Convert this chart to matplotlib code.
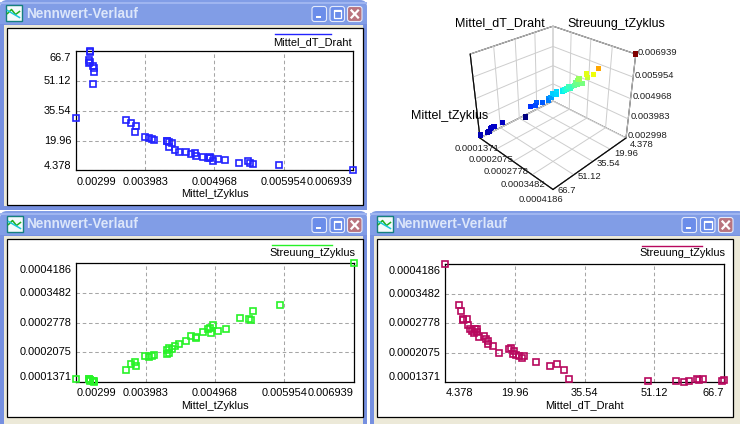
import matplotlib
matplotlib.use("Agg")
import numpy as np
import matplotlib.pyplot as plt
from matplotlib.patches import Rectangle, FancyBboxPatch
from matplotlib.lines import Line2D
from mpl_toolkits.mplot3d import proj3d

plt.rcParams['font.family'] = ['Liberation Sans', 'DejaVu Sans']

# ---------------- data ----------------
mittel_tzyklus = [0.003188, 0.003192, 0.003174, 0.003180, 0.003188, 0.003231, 0.003245,
                  0.003245, 0.003231, 0.002998, 0.003706, 0.003778, 0.003844, 0.003835,
                  0.003973, 0.004034, 0.004077, 0.004101, 0.004291, 0.004286, 0.004315,
                  0.004362, 0.004320, 0.004405, 0.004462, 0.004562, 0.004633, 0.004695,
                  0.004705, 0.004804, 0.004876, 0.004900, 0.004907, 0.004947, 0.005014,
                  0.005118, 0.005318, 0.005446, 0.005479, 0.005513, 0.005888, 0.006939]
mittel_dt_draht = [66.70, 66.40, 62.16, 60.70, 61.10, 59.00, 57.80,
                   56.10, 49.80, 31.96, 30.91, 29.34, 27.77, 24.63,
                   22.01, 21.49, 20.79, 20.27, 19.57, 19.80, 19.04,
                   18.69, 16.42, 15.03, 13.98, 13.98, 13.11, 13.46,
                   11.88, 11.53, 11.01, 11.53, 10.80, 9.44, 10.31,
                   9.96, 8.39, 9.27, 8.39, 7.87, 7.35, 4.378]
streuung_tzyklus = [0.0001420, 0.0001390, 0.0001442, 0.0001450, 0.0001418, 0.0001395, 0.0001379,
                    0.0001385, 0.0001395, 0.0001450, 0.0001664, 0.0001806, 0.0001743, 0.0001853,
                    0.0001996, 0.0001956, 0.0001996, 0.0002019, 0.0002035, 0.0002122, 0.0002178,
                    0.0002162, 0.0002067, 0.0002225, 0.0002273, 0.0002352, 0.0002462, 0.0002407,
                    0.0002447, 0.0002557, 0.0002628, 0.0002644, 0.0002541, 0.0002731, 0.0002589,
                    0.0002636, 0.0002889, 0.0002873, 0.0002842, 0.0003063, 0.0003205, 0.0004186]

tz_ticks = [0.002998, 0.003983, 0.004968, 0.005954, 0.006939]
tz_labels = ["0.00299", "0.003983", "0.004968", "0.005954", "0.006939"]
tz_labels_3d = ["0.002998", "0.003983", "0.004968", "0.005954", "0.006939"]
dt_ticks = [4.378, 19.96, 35.54, 51.12, 66.7]
dt_labels = ["4.378", "19.96", "35.54", "51.12", "66.7"]
st_ticks = [0.0001371, 0.0002075, 0.0002778, 0.0003482, 0.0004186]
st_labels = ["0.0001371", "0.0002075", "0.0002778", "0.0003482", "0.0004186"]

window_title = "Nennwert-Verlauf"
name_tz = "Mittel_tZyklus"
name_dt = "Mittel_dT_Draht"
name_st = "Streuung_tZyklus"

# ---------------- figure ----------------
W, H = 740, 424
fig = plt.figure(figsize=(W / 100, H / 100), dpi=100)
fig.patch.set_facecolor('white')

bg = fig.add_axes([0, 0, 1, 1])
bg.set_zorder(-5)
bg.axis('off')

FRAME = '#7690E0'
TITLE = '#819DE6'
BODY = '#ECE9D8'
FS = 7.9


def button(x, y, w, h, kind):
    fc = '#B9747E' if kind == 'close' else '#6B8DEA'
    bg.add_patch(FancyBboxPatch((x, y), w, h, boxstyle='round,pad=0,rounding_size=2.5',
                                fc=fc, ec='#E4EAFB', lw=0.8))
    if kind == 'min':
        bg.add_patch(Rectangle((x + 4, y + h - 5.5), 4.5, 2, fc='white', ec='none'))
    elif kind == 'max':
        bg.add_patch(Rectangle((x + 3.5, y + 3.5), w - 7, h - 7, fc='none', ec='white', lw=0.9))
        bg.add_patch(Rectangle((x + 3.5, y + 3.5), w - 7, 1.6, fc='white', ec='none'))
    else:
        bg.add_line(Line2D([x + 4, x + w - 4], [y + 4, y + h - 4], color='white', lw=1.6))
        bg.add_line(Line2D([x + 4, x + w - 4], [y + h - 4, y + 4], color='white', lw=1.6))


def window(x0, y0, x1, y1, panel, title_x, icon_x, btn_x, btn_y):
    bg.add_patch(FancyBboxPatch((x0, y0), x1 - x0, 40, boxstyle='round,pad=0,rounding_size=7',
                                fc=TITLE, ec='none'))
    bg.add_patch(Rectangle((x0, y0 + 2), x1 - x0, 1.5, fc='#9FB5F0', ec='none'))
    bg.add_patch(Rectangle((x0, y0 + 24), x1 - x0, y1 - y0 - 24, fc=FRAME, ec='none'))
    bg.add_patch(Rectangle((x0 + 4, y0 + 25), x1 - x0 - 8, y1 - y0 - 29, fc=BODY, ec='none'))
    px0, py0, px1, py1 = panel
    bg.add_patch(Rectangle((px0, py0), px1 - px0, py1 - py0, fc='white', ec='black', lw=0.9))
    # icon
    iy = y0 + 4.5
    bg.add_patch(Rectangle((icon_x, iy), 16, 16, fc='#F4FBFB', ec='#16807E', lw=1.0))
    bg.add_line(Line2D([icon_x + 2, icon_x + 6, icon_x + 10, icon_x + 14],
                       [iy + 9, iy + 5, iy + 10, iy + 7], color='#1FB01F', lw=1.1))
    bg.add_line(Line2D([icon_x + 2, icon_x + 14], [iy + 6, iy + 13], color='#18C8D8', lw=1.1))
    bg.text(title_x, y0 + 13.5, window_title, color='#DCE6FA', fontsize=9.8,
            fontweight='bold', ha='left', va='center')
    for bx, kind in zip(btn_x, ['min', 'max', 'close']):
        button(bx, btn_y, 14.5, 15, kind)


window(0, 0, 367, 210, (7, 28, 362.5, 204.5), 26, 5.5, [312, 330, 347.5], 6.5)
window(0, 211, 367, 430, (7, 239, 362.5, 416.7), 26, 6.5, [312, 330, 347.5], 217.5)
window(370, 211, 745, 430, (377, 239, 732.7, 416.7), 395, 376.5, [682, 700.5, 718.5], 217.5)

bg.set_xlim(0, W)
bg.set_ylim(H, 0)


# ---------------- 2D panels ----------------
def panel(rect, xs, ys, color, xt, xl, yt, yl, xlabel, legend_label, leg_line, leg_text):
    l, t, r, b = rect
    ax = fig.add_axes([l / W, 1 - b / H, (r - l) / W, (b - t) / H])
    ax.set_xlim(xt[0], xt[-1])
    ax.set_ylim(yt[0], yt[-1])
    ax.set_xticks(xt)
    ax.set_yticks(yt)
    ax.tick_params(length=0, labelbottom=False, labelleft=False)
    ax.grid(True, color='#A6A6A6', linestyle=(0, (3.4, 2.6)), linewidth=0.75)
    for sp in ax.spines.values():
        sp.set_color('black')
        sp.set_linewidth(0.9)
    ax.plot(xs, ys, 's', ms=5.0, mfc='none', mec=color, mew=1.2, clip_on=False, zorder=4)
    n = len(xt)
    for i, (v, lab) in enumerate(zip(xt, xl)):
        ha = 'left' if i == 0 else ('right' if i == n - 1 else 'center')
        ax.annotate(lab, (v, 0), xycoords=('data', 'axes fraction'), xytext=(0, -8.2),
                    textcoords='offset points', ha=ha, va='center', fontsize=FS)
    for i, (v, lab) in enumerate(zip(yt, yl)):
        dy = 3.3 if i == 0 else (-5.0 if i == n - 1 else 0)
        ax.annotate(lab, (0, v), xycoords=('axes fraction', 'data'), xytext=(-3.6, dy),
                    textcoords='offset points', ha='right', va='center', fontsize=FS)
    ax.annotate(xlabel, (0.5, 0), xycoords='axes fraction', xytext=(0, -17),
                textcoords='offset points', ha='center', va='center', fontsize=FS)
    (lx0, lx1, ly) = leg_line
    fig.add_artist(Line2D([lx0 / W, lx1 / W], [1 - ly / H, 1 - ly / H], color=color, lw=1.0,
                          transform=fig.transFigure))
    (tx, ty) = leg_text
    fig.text(tx / W, 1 - ty / H, legend_label, ha='right', va='center', fontsize=FS)
    return ax


panel((76.3, 51.3, 352.7, 170.3), mittel_tzyklus, mittel_dt_draht, '#2323FF',
      tz_ticks, tz_labels, dt_ticks, dt_labels, name_tz, name_dt, (275, 331, 34), (352, 42))
panel((76.3, 263.3, 353.7, 382.0), mittel_tzyklus, streuung_tzyklus, '#27F227',
      tz_ticks, tz_labels, st_ticks, st_labels, name_tz, name_st, (272, 332, 245), (355, 253))
panel((445.3, 264.3, 723.7, 382.0), mittel_dt_draht, streuung_tzyklus, '#B8085E',
      dt_ticks, dt_labels, st_ticks, st_labels, name_dt, name_st, (641.7, 701.7, 245.7), (725, 253))

# ---------------- 3D chart ----------------
ax3 = fig.add_axes([0.6, 0.5, 0.3, 0.5], projection='3d')
ax3.set_proj_type('persp', focal_length=0.4)
ax3.patch.set_alpha(0)
ax3.set_facecolor((1, 1, 1, 0))
ax3.set_box_aspect((1, 1, 0.88))
ax3.view_init(elev=30, azim=45)
ax3.set_xlim(dt_ticks[0], dt_ticks[-1])
ax3.set_ylim(st_ticks[0], st_ticks[-1])
ax3.set_zlim(tz_ticks[0], tz_ticks[-1])
ax3.set_xticks(dt_ticks)
ax3.set_yticks(st_ticks)
ax3.set_zticks(tz_ticks)
for axis in (ax3.xaxis, ax3.yaxis, ax3.zaxis):
    axis.set_ticklabels([])
    axis.set_pane_color((1, 1, 1, 1))
    axis.pane.set_edgecolor('black')
    axis.pane.set_linewidth(0.8)
    axis._axinfo['grid'].update(color='#CDCDCD', linewidth=0.7, linestyle='-')
    axis._axinfo['tick'].update(inward_factor=0, outward_factor=0)
    axis.line.set_color('black')
    axis.line.set_linewidth(0.8)
ax3.set_xlabel('')
ax3.set_ylabel('')
ax3.set_zlabel('')
ax3.scatter(mittel_dt_draht, streuung_tzyklus, mittel_tzyklus, c=mittel_tzyklus, cmap='jet',
            vmin=tz_ticks[0], vmax=tz_ticks[-1], marker='s', s=14, linewidths=0,
            depthshade=False)


def proj_px(x, y, z):
    xs, ys, _ = proj3d.proj_transform(np.atleast_1d(np.asarray(x, float)),
                                      np.atleast_1d(np.asarray(y, float)),
                                      np.atleast_1d(np.asarray(z, float)), ax3.M)
    d = ax3.transData.transform(np.column_stack([xs, ys]))
    return d[:, 0], H - d[:, 1]


def set_ax(cx, cy, s):
    ax3.set_position([(cx - s / 2) / W, 1 - (cy + s / 2) / H, s / W, s / H])


side, cxp, cyp = 240.0, 553.0, 110.0
set_ax(cxp, cyp, side)
xmin, xmax = dt_ticks[0], dt_ticks[-1]
ymin, ymax = st_ticks[0], st_ticks[-1]
zmin, zmax = tz_ticks[0], tz_ticks[-1]
TARGET_SPAN, TARGET_MID = 146.0, (553.0, 138.0)
for _ in range(3):
    fig.canvas.draw()
    pxs, pys = proj_px([xmax, xmin], [ymin, ymax], [zmin, zmin])
    k = TARGET_SPAN / (pxs[1] - pxs[0])
    bb = ax3.get_position()
    acx = (bb.x0 + bb.x1) / 2 * W
    acy = (1 - (bb.y0 + bb.y1) / 2) * H
    side *= k
    cxp = TARGET_MID[0] - (pxs.mean() - acx) * k
    cyp = TARGET_MID[1] - (pys.mean() - acy) * k
    set_ax(cxp, cyp, side)
fig.canvas.draw()

TFS = 6.8
for v, lab in zip(tz_ticks, tz_labels_3d):
    px, py = proj_px(xmin, ymax, v)
    fig.text((px[0] + 2) / W, 1 - (py[0] - 2.0) / H, lab, ha='left', va='center', fontsize=TFS,
             color='#202020')
for i, (v, lab) in enumerate(zip(st_ticks, st_labels)):
    px, py = proj_px(xmax, v, zmin)
    fig.text((px[0] - 3 - 2.2 * i) / W, 1 - (py[0] + 10) / H, lab, ha='center', va='center',
             fontsize=TFS, color='#202020')
DT_DY = [6.5, 4.0, 2.0, 1.5, 1.5]
for i, (v, lab) in enumerate(zip(dt_ticks, dt_labels)):
    px, py = proj_px(v, ymax, zmin)
    fig.text((px[0] + 4) / W, 1 - (py[0] + DT_DY[i]) / H, lab, ha='left', va='center',
             fontsize=TFS, color='#202020')

fig.text(545 / W, 1 - 22.7 / H, name_dt, ha='right', va='center', fontsize=9)
fig.text(567 / W, 1 - 24 / H, name_st, ha='left', va='center', fontsize=9)
fig.text(488 / W, 1 - 116 / H, name_tz, ha='right', va='center', fontsize=9)

fig.savefig('out.png', dpi=100)
